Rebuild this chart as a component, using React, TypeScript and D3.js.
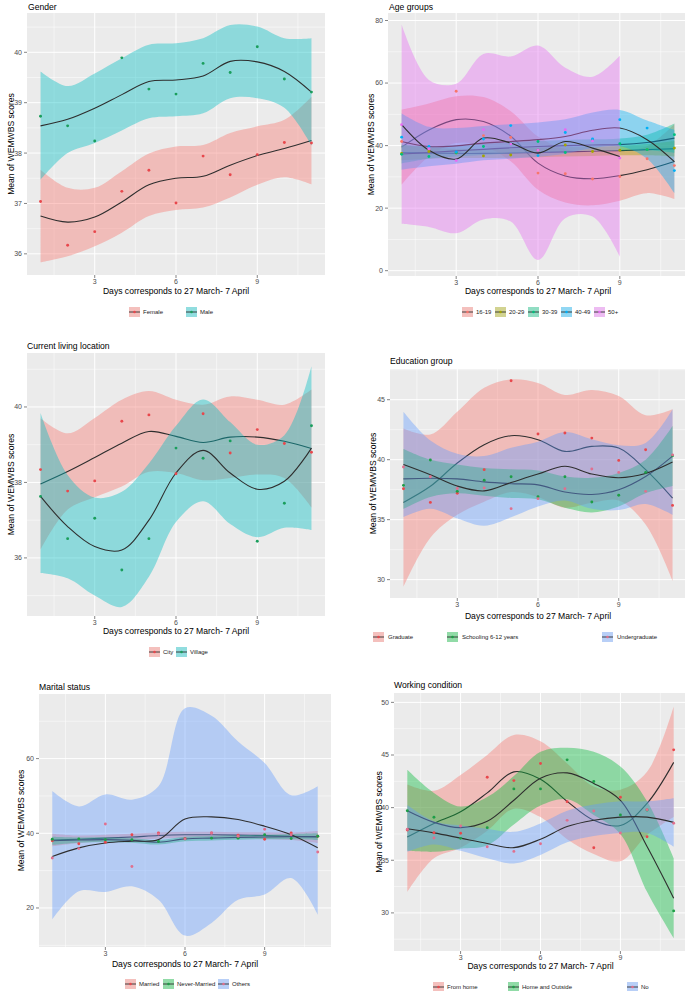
import React from 'react';
import * as d3 from 'd3';

// ---------- shared ----------
const days = [1, 2, 3, 4, 5, 6, 7, 8, 9, 10, 11];
const days9 = [1, 2, 3, 4, 5, 6, 7, 8, 9];
const xTicks = [3, 6, 9];
const xTitle = 'Days corresponds to 27 March- 7 April';
const yTitle = 'Mean of WEMWBS scores';

const hue2 = ['#F8766D', '#00BFC4'];
const hue3 = ['#F8766D', '#00BA38', '#619CFF'];
const hue5 = ['#F8766D', '#A3A500', '#00BF7D', '#00B0F6', '#E76BF3'];
const pt2 = ['#E8474C', '#1A9E5C'];
const pt3 = ['#E8474C', '#1E9E47', '#E0708F'];

// ---------- Gender ----------
const genderNames = ['Female', 'Male'];
const femalePts = [37.04, 36.17, 36.44, 37.24, 37.66, 37.01, 37.94, 37.57, 37.97, 38.21, 38.2];
const femaleFit = [36.75, 36.63, 36.73, 37.03, 37.37, 37.5, 37.54, 37.76, 37.95, 38.09, 38.25];
const femaleHi = [37.67, 37.31, 37.31, 37.64, 37.99, 38.13, 38.16, 38.4, 38.53, 38.66, 39.12];
const femaleLo = [35.83, 35.95, 36.15, 36.42, 36.75, 36.87, 36.92, 37.12, 37.37, 37.52, 37.38];
const malePts = [38.73, 38.54, 38.24, 39.89, 39.27, 39.17, 39.78, 39.6, 40.11, 39.47, 39.21];
const maleFit = [38.54, 38.67, 38.89, 39.16, 39.42, 39.45, 39.53, 39.82, 39.81, 39.62, 39.21];
const maleHi = [39.62, 39.33, 39.58, 39.88, 40.15, 40.18, 40.28, 40.54, 40.51, 40.28, 40.28];
const maleLo = [37.47, 38.0, 38.2, 38.45, 38.69, 38.73, 38.79, 39.09, 39.09, 38.9, 38.15];
const genderTicks = [36, 37, 38, 39, 40];

// ---------- Age groups ----------
const ageNames = ['16-19', '20-29', '30-39', '40-49', '50+'];
const a1619Pts = [41.3, 38.7, 57.4, 43.2, 42.6, 31.2, 31.0, 29.3, 30.1, 35.8, 33.6];
const a1619Fit = [39.5, 45.0, 48.3, 47.7, 43.0, 34.4, 30.3, 29.4, 30.4, 32.3, 34.9];
const a1619Hi = [51.5, 53.5, 55.8, 55.5, 51.0, 42.9, 38.8, 37.9, 38.4, 39.8, 46.9];
const a1619Lo = [27.5, 36.5, 40.8, 39.9, 35.0, 25.9, 21.8, 20.9, 22.4, 24.8, 22.9];
const a2029Pts = [37.5, 38.1, 37.6, 36.7, 37.0, 38.5, 40.2, 38.1, 38.5, 38.7, 39.2];
const a2029Fit = [37.8, 37.6, 37.5, 37.5, 37.6, 37.8, 38.0, 38.2, 38.4, 38.7, 39.0];
const a2029Hi = [40.3, 39.4, 39.0, 39.0, 39.1, 39.3, 39.5, 39.7, 39.9, 40.5, 41.5];
const a2029Lo = [35.3, 35.8, 36.0, 36.0, 36.1, 36.3, 36.5, 36.7, 36.9, 36.9, 36.5];
const a3039Pts = [37.2, 36.5, 37.8, 39.7, 40.6, 41.3, 37.8, 41.9, 40.6, 38.7, 43.5];
const a3039Fit = [37.3, 37.8, 38.3, 38.8, 39.3, 39.7, 40.0, 40.2, 40.3, 41.0, 42.4];
const a3039Hi = [40.3, 39.8, 40.1, 40.6, 41.1, 41.5, 41.8, 42.0, 42.3, 43.5, 47.1];
const a3039Lo = [34.3, 35.8, 36.5, 37.0, 37.5, 37.9, 38.2, 38.4, 38.3, 38.5, 37.7];
const a4049Pts = [42.7, 39.7, 38.0, 42.1, 46.4, 36.8, 44.2, 42.1, 48.3, 45.6, 32.0];
const a4049Fit = [41.3, 39.7, 39.9, 40.8, 41.3, 41.9, 42.9, 44.9, 45.6, 41.9, 34.9];
const a4049Hi = [50.3, 46.0, 45.6, 46.3, 46.8, 47.4, 48.4, 50.6, 51.4, 48.0, 45.0];
const a4049Lo = [32.3, 33.4, 34.2, 35.3, 35.8, 36.4, 37.4, 39.2, 39.8, 35.8, 24.8];
const a50Pts = [46.7, 39.0, 35.2, 45.1, 40.5, 38.5, 45.1, 41.5, 36.0];
const a50Fit = [46.7, 38.5, 35.7, 42.4, 40.8, 37.6, 41.3, 39.2, 36.5];
const a50Hi = [78.7, 61.0, 59.8, 69.3, 68.5, 72.0, 64.9, 62.0, 68.7];
const a50Lo = [15.0, 14.0, 12.0, 16.4, 15.7, 3.4, 16.8, 17.3, 4.5];
const ageTicks = [0, 20, 40, 60, 80];

// ---------- Current living location ----------
const locNames = ['City', 'Village'];
const cityPts = [38.34, 37.77, 38.04, 39.62, 39.79, 38.23, 39.82, 38.78, 39.4, 39.03, 38.8];
const cityFit = [37.96, 38.29, 38.66, 39.04, 39.35, 39.22, 39.06, 39.2, 39.2, 39.09, 38.9];
const cityHi = [39.7, 39.3, 39.71, 40.19, 40.42, 40.19, 40.06, 40.28, 40.19, 40.06, 40.46];
const cityLo = [36.22, 37.28, 37.61, 37.89, 38.28, 38.25, 38.06, 38.12, 38.21, 38.12, 37.34];
const villagePts = [37.63, 36.51, 37.05, 35.68, 36.51, 38.91, 38.64, 39.1, 36.44, 37.45, 39.5];
const villageFit = [37.63, 36.83, 36.3, 36.21, 37.0, 38.25, 38.85, 38.25, 37.82, 38.03, 38.91];
const villageHi = [39.84, 38.2, 37.6, 37.75, 38.5, 39.5, 40.2, 39.6, 39.0, 39.25, 41.08];
const villageLo = [35.6, 35.46, 35.0, 34.7, 35.5, 36.95, 37.5, 36.9, 36.55, 36.8, 36.74];
const locTicks = [36, 38, 40];

// ---------- Education group ----------
const eduNames = ['Graduate', 'Schooling 6-12 years', 'Undergraduate'];
const gradPts = [37.58, 36.44, 37.2, 39.17, 46.58, 42.14, 42.22, 41.8, 39.94, 40.83, 36.19];
const gradFit = [36.44, 37.78, 39.72, 41.25, 42.0, 41.67, 40.69, 41.11, 40.97, 39.17, 36.8];
const gradHi = [42.6, 42.1, 44.0, 46.0, 46.7, 46.4, 45.4, 45.8, 45.3, 43.7, 44.2];
const gradLo = [29.4, 33.5, 35.4, 36.5, 37.3, 36.9, 36.0, 36.4, 36.6, 34.6, 29.9];
const schoolPts = [37.86, 39.97, 37.36, 38.28, 38.58, 36.92, 38.58, 36.47, 37.03, 38.94, 40.33];
const schoolFit = [38.4, 38.45, 38.4, 38.15, 38.0, 37.9, 37.3, 37.1, 37.5, 38.6, 40.3];
const schoolHi = [40.9, 40.0, 39.6, 39.3, 39.2, 39.1, 38.6, 38.5, 38.9, 40.0, 42.8];
const schoolLo = [35.9, 36.9, 37.2, 37.0, 36.8, 36.7, 36.0, 35.6, 36.1, 37.2, 37.8];
const underPts = [39.39, 38.58, 37.6, 37.64, 35.92, 36.75, 37.58, 39.22, 38.94, 37.36, 40.4];
const underFit = [39.6, 38.75, 37.8, 37.4, 38.1, 38.8, 39.45, 38.8, 38.5, 38.85, 39.8];
const underHi = [44.0, 41.6, 40.5, 40.3, 41.0, 41.5, 42.3, 41.7, 41.2, 41.4, 44.2];
const underLo = [35.2, 35.9, 35.1, 34.5, 35.2, 36.1, 36.6, 35.9, 35.8, 36.3, 35.4];
const eduTicks = [30, 35, 40, 45];

// ---------- Marital status ----------
const marNames = ['Married', 'Never-Married', 'Others'];
const marriedPts = [38.0, 37.2, 37.6, 39.6, 40.1, 38.6, 40.1, 39.5, 38.4, 40.1, 39.2];
const marriedFit = [38.2, 38.4, 38.7, 39.0, 39.4, 39.6, 39.6, 39.5, 39.4, 39.2, 39.0];
const marriedHi = [39.9, 39.4, 39.6, 39.9, 40.2, 40.4, 40.4, 40.3, 40.3, 40.2, 40.6];
const marriedLo = [36.5, 37.4, 37.8, 38.1, 38.6, 38.8, 38.8, 38.7, 38.5, 38.2, 37.4];
const neverPts = [38.4, 38.5, 38.3, 38.3, 37.8, 38.5, 38.7, 38.7, 39.6, 38.6, 39.2];
const neverFit = [38.0, 38.2, 38.3, 38.1, 37.6, 38.5, 38.7, 38.9, 39.0, 39.1, 39.1];
const neverHi = [39.1, 38.9, 38.9, 38.7, 38.2, 39.1, 39.3, 39.5, 39.6, 39.8, 40.0];
const neverLo = [36.9, 37.5, 37.7, 37.5, 37.0, 37.9, 38.1, 38.3, 38.4, 38.4, 38.2];
const othersPts = [33.4, 35.9, 42.5, 31.1, 39.8, 38.5, 40.0, 39.2, 41.1, 39.6, 35.0];
const othersFit = [33.8, 36.1, 37.4, 37.9, 38.3, 43.8, 44.4, 43.7, 41.9, 39.6, 36.1];
const othersHi = [51.3, 47.2, 50.4, 49.0, 52.6, 73.5, 71.5, 64.6, 58.8, 50.2, 52.6];
const othersLo = [16.9, 24.5, 24.3, 25.8, 22.2, 12.6, 16.0, 22.2, 23.6, 28.0, 18.2];
const marTicks = [20, 40, 60];

// ---------- Working condition ----------
const workNames = ['From home', 'Home and Outside', 'No'];
const homePts = [37.87, 37.62, 37.56, 42.89, 42.57, 44.19, 40.57, 36.19, 40.98, 37.24, 45.49];
const homeFit = [37.2, 38.5, 39.6, 41.4, 43.4, 42.7, 40.6, 38.8, 38.3, 40.4, 44.3];
const homeHi = [42.2, 41.6, 43.1, 45.0, 46.9, 46.3, 44.2, 42.0, 41.7, 43.4, 49.6];
const homeLo = [32.0, 35.2, 36.2, 37.8, 39.9, 39.1, 37.0, 35.6, 34.9, 37.4, 39.1];
const bothPts = [39.71, 39.08, 37.08, 38.1, 41.78, 41.78, 44.54, 42.48, 39.3, 39.78, 30.19];
const bothFit = [39.7, 38.6, 38.1, 38.7, 40.7, 42.8, 43.3, 42.3, 40.7, 36.3, 31.4];
const bothHi = [43.6, 41.4, 40.1, 41.0, 43.0, 45.3, 45.7, 45.3, 43.9, 40.6, 35.2];
const bothLo = [35.9, 35.8, 36.1, 36.4, 38.4, 40.2, 40.8, 39.3, 37.5, 32.0, 27.6];
const noPts = [37.94, 37.11, 38.25, 36.29, 35.84, 36.57, 38.79, 39.68, 37.59, 39.81, 38.51];
const noFit = [38.0, 37.6, 37.1, 36.6, 36.2, 37.0, 38.2, 38.8, 39.1, 39.1, 38.6];
const noHi = [40.25, 38.7, 38.3, 38.0, 37.7, 38.5, 39.7, 40.3, 40.6, 40.6, 40.9];
const noLo = [35.8, 36.5, 35.9, 35.2, 34.7, 35.5, 36.7, 37.3, 37.6, 37.6, 36.3];
const workTicks = [30, 35, 40, 45, 50];

// ---------- types & layout ----------
type Group = {
  name: string; days: number[]; pts: number[]; fit: number[]; lo: number[]; hi: number[];
  fill: string; pt: string;
};
type Layout = {
  l: number; r: number; t: number; b: number; yDom: [number, number];
  titleX: number; titleY: number; xTitleY: number; yTitleX: number;
  legendY: number; legendX: number[]; textGap: number;
};
type PanelCfg = { id: string; title: string; ticks: number[]; groups: Group[]; layout: Layout };

const mk = (names: string[], fills: string[], pts: string[], data: number[][][], dayArr: number[][]): Group[] =>
  names.map((n, i) => ({
    name: n, days: dayArr[i], pts: data[i][0], fit: data[i][1], lo: data[i][2], hi: data[i][3],
    fill: fills[i], pt: pts[i],
  }));

const panels: PanelCfg[] = [
  {
    id: 'p1', title: 'Gender', ticks: genderTicks,
    groups: mk(genderNames, hue2, pt2, [
      [femalePts, femaleFit, femaleLo, femaleHi],
      [malePts, maleFit, maleLo, maleHi],
    ], [days, days]),
    layout: { l: 27, r: 325, t: 13, b: 275, yDom: [35.58, 40.78], titleX: 28, titleY: 10, xTitleY: 294,
      yTitleX: 13.5, legendY: 312, legendX: [129, 186], textGap: 14 },
  },
  {
    id: 'p2', title: 'Age groups', ticks: ageTicks,
    groups: mk(ageNames, hue5, hue5, [
      [a1619Pts, a1619Fit, a1619Lo, a1619Hi],
      [a2029Pts, a2029Fit, a2029Lo, a2029Hi],
      [a3039Pts, a3039Fit, a3039Lo, a3039Hi],
      [a4049Pts, a4049Fit, a4049Lo, a4049Hi],
      [a50Pts, a50Fit, a50Lo, a50Hi],
    ], [days, days, days, days, days9]),
    layout: { l: 388, r: 688, t: 13, b: 276, yDom: [-1.7, 82.4], titleX: 389, titleY: 10, xTitleY: 294,
      yTitleX: 373.5, legendY: 312, legendX: [462, 495, 528, 561, 594], textGap: 14 },
  },
  {
    id: 'p3', title: 'Current living location', ticks: locTicks,
    groups: mk(locNames, hue2, pt2, [
      [cityPts, cityFit, cityLo, cityHi],
      [villagePts, villageFit, villageLo, villageHi],
    ], [days, days]),
    layout: { l: 27, r: 325, t: 353, b: 616, yDom: [34.46, 41.43], titleX: 27, titleY: 349, xTitleY: 634,
      yTitleX: 13.5, legendY: 652, legendX: [149, 176], textGap: 14 },
  },
  {
    id: 'p4', title: 'Education group', ticks: eduTicks,
    groups: mk(eduNames, hue3, pt3, [
      [gradPts, gradFit, gradLo, gradHi],
      [schoolPts, schoolFit, schoolLo, schoolHi],
      [underPts, underFit, underLo, underHi],
    ], [days, days, days]),
    layout: { l: 390, r: 686, t: 369, b: 598, yDom: [28.47, 47.56], titleX: 390, titleY: 364, xTitleY: 619,
      yTitleX: 375.5, legendY: 637, legendX: [373, 447, 602], textGap: 15 },
  },
  {
    id: 'p5', title: 'Marital status', ticks: marTicks,
    groups: mk(marNames, hue3, pt3, [
      [marriedPts, marriedFit, marriedLo, marriedHi],
      [neverPts, neverFit, neverLo, neverHi],
      [othersPts, othersFit, othersLo, othersHi],
    ], [days, days, days]),
    layout: { l: 39, r: 331, t: 694, b: 947, yDom: [9.55, 77.3], titleX: 39, titleY: 690, xTitleY: 967,
      yTitleX: 23.5, legendY: 984, legendX: [125, 163, 218], textGap: 14 },
  },
  {
    id: 'p6', title: 'Working condition', ticks: workTicks,
    groups: mk(workNames, hue3, pt3, [
      [homePts, homeFit, homeLo, homeHi],
      [bothPts, bothFit, bothLo, bothHi],
      [noPts, noFit, noLo, noHi],
    ], [days, days, days]),
    layout: { l: 394, r: 687, t: 693, b: 951, yDom: [26.38, 50.89], titleX: 394, titleY: 688, xTitleY: 969,
      yTitleX: 381.5, legendY: 987, legendX: [433, 508, 627], textGap: 14 },
  },
];

const FONT = '"Liberation Sans", Arial, Helvetica, sans-serif';
const LINE = '#2E2E2E';

function minorOf(ticks: number[], lo: number, hi: number): number[] {
  const step = ticks[1] - ticks[0];
  const out: number[] = [];
  for (let v = ticks[0] - step / 2; v <= ticks[ticks.length - 1] + step; v += step) {
    if (v > lo && v < hi) out.push(v);
  }
  return out;
}

function Panel({ cfg }: { cfg: PanelCfg }) {
  const L = cfg.layout;
  const x = d3.scaleLinear().domain([0.5, 11.5]).range([L.l, L.r]);
  const y = d3.scaleLinear().domain(L.yDom).range([L.b, L.t]);
  const curve = d3.curveCatmullRom.alpha(0.5);
  const xMinor = minorOf(xTicks, 0.5, 11.5);
  const yMinor = minorOf(cfg.ticks, L.yDom[0], L.yDom[1]);
  const cxTitle = (L.l + L.r) / 2;
  const cy = (L.t + L.b) / 2;

  return (
    <g>
      <defs>
        <clipPath id={'clip-' + cfg.id}>
          <rect x={L.l} y={L.t} width={L.r - L.l} height={L.b - L.t} />
        </clipPath>
      </defs>
      <text x={L.titleX} y={L.titleY} fontSize={8.6} fill="#000" fontFamily={FONT}>{cfg.title}</text>
      <rect x={L.l} y={L.t} width={L.r - L.l} height={L.b - L.t} fill="#EBEBEB" />
      {yMinor.map((v) => (
        <line key={'ym' + v} x1={L.l} x2={L.r} y1={y(v)} y2={y(v)} stroke="#fff" strokeWidth={0.5} />
      ))}
      {xMinor.map((v) => (
        <line key={'xm' + v} x1={x(v)} x2={x(v)} y1={L.t} y2={L.b} stroke="#fff" strokeWidth={0.5} />
      ))}
      {cfg.ticks.map((v) => (
        <line key={'yM' + v} x1={L.l} x2={L.r} y1={y(v)} y2={y(v)} stroke="#fff" strokeWidth={1} />
      ))}
      {xTicks.map((v) => (
        <line key={'xM' + v} x1={x(v)} x2={x(v)} y1={L.t} y2={L.b} stroke="#fff" strokeWidth={1} />
      ))}
      <g clipPath={`url(#clip-${cfg.id})`}>
        {cfg.groups.map((g) => {
          const idx = g.days.map((_, i) => i);
          const area = d3.area<number>()
            .x((i) => x(g.days[i]))
            .y0((i) => y(g.lo[i]))
            .y1((i) => y(g.hi[i]))
            .curve(curve);
          const line = d3.line<number>()
            .x((i) => x(g.days[i]))
            .y((i) => y(g.fit[i]))
            .curve(curve);
          return (
            <g key={g.name}>
              <path d={area(idx) || ''} fill={g.fill} fillOpacity={0.4} stroke="none" />
              <path d={line(idx) || ''} fill="none" stroke={LINE} strokeWidth={1.1} />
            </g>
          );
        })}
        {cfg.groups.map((g) => (
          <g key={'pts' + g.name}>
            {g.pts.map((v, i) => (
              <circle key={i} cx={x(g.days[i])} cy={y(v)} r={1.45} fill={g.pt} />
            ))}
          </g>
        ))}
      </g>
      {cfg.ticks.map((v) => (
        <g key={'yt' + v}>
          <line x1={L.l - 3} x2={L.l} y1={y(v)} y2={y(v)} stroke="#333" strokeWidth={0.6} />
          <text x={L.l - 5} y={y(v)} dy="0.35em" textAnchor="end" fontSize={7} fill="#4D4D4D" fontFamily={FONT}>{v}</text>
        </g>
      ))}
      {xTicks.map((v) => (
        <g key={'xt' + v}>
          <line x1={x(v)} x2={x(v)} y1={L.b} y2={L.b + 3} stroke="#333" strokeWidth={0.6} />
          <text x={x(v)} y={L.b + 8.5} textAnchor="middle" fontSize={7} fill="#4D4D4D" fontFamily={FONT}>{v}</text>
        </g>
      ))}
      <text x={cxTitle} y={L.xTitleY} textAnchor="middle" fontSize={8.6} fill="#000" fontFamily={FONT}>{xTitle}</text>
      <text transform={`translate(${L.yTitleX},${cy}) rotate(-90)`} textAnchor="middle" fontSize={8.6} fill="#000" fontFamily={FONT}>{yTitle}</text>
      {cfg.groups.map((g, i) => {
        const kx = L.legendX[i];
        const ky = L.legendY;
        return (
          <g key={'lg' + g.name}>
            <rect x={kx} y={ky - 5} width={11} height={10} fill="#F2F2F2" />
            <rect x={kx} y={ky - 5} width={11} height={10} fill={g.fill} fillOpacity={0.4} />
            <line x1={kx} x2={kx + 11} y1={ky} y2={ky} stroke={LINE} strokeWidth={0.9} />
            <circle cx={kx + 5.5} cy={ky} r={1.3} fill={g.pt} />
            <text x={kx + L.textGap} y={ky} dy="0.35em" fontSize={6} fill="#1A1A1A" fontFamily={FONT}>{g.name}</text>
          </g>
        );
      })}
    </g>
  );
}

export default function App() {
  return (
    <svg width={685} height={991} viewBox="0 0 685 991"
      style={{ position: 'absolute', left: 0, top: 0, background: '#fff' }}>
      <rect x={0} y={0} width={685} height={991} fill="#fff" />
      {panels.map((p) => <Panel key={p.id} cfg={p} />)}
    </svg>
  );
}
